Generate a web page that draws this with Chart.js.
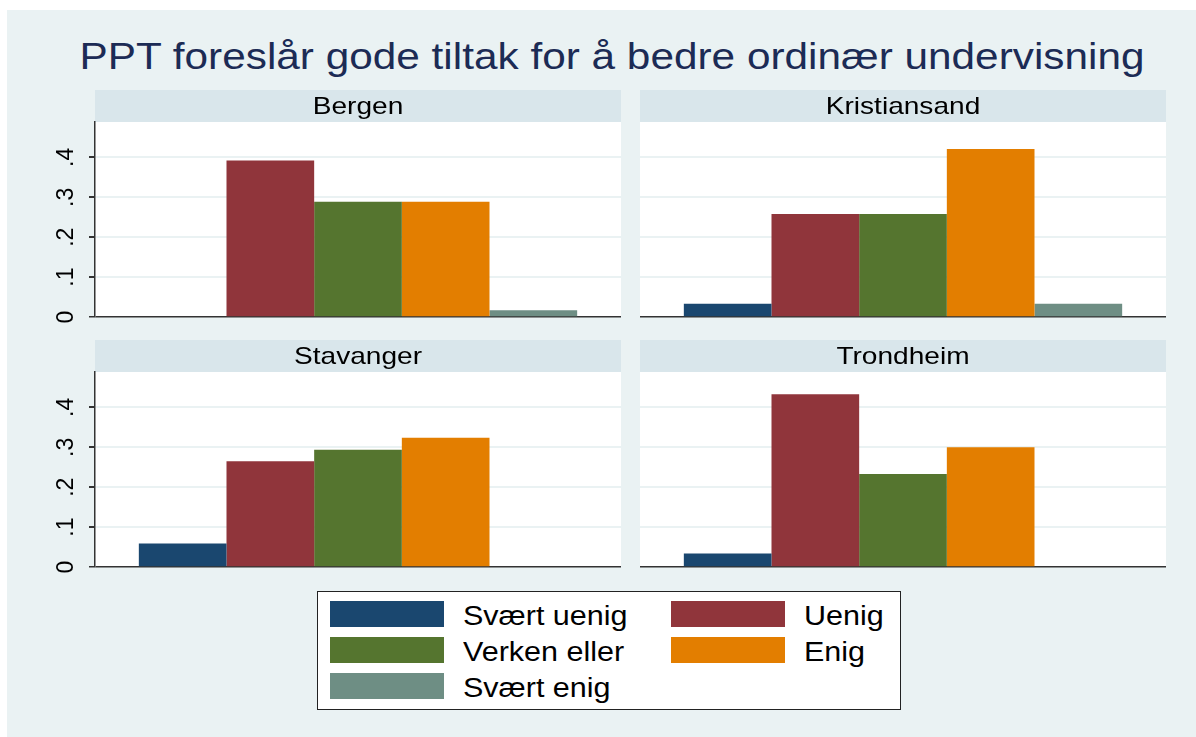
<!DOCTYPE html>
<html>
<head>
<meta charset="utf-8">
<script src="https://cdn.jsdelivr.net/npm/chart.js@4"></script>
<style>
    body { margin: 0; background: #ffffff; font-family: "Liberation Sans", Arial, sans-serif; }
    #page { position: absolute; left: 7px; top: 10px; width: 1189px; height: 727px; background: #EAF2F3; }
    #title { position: absolute; left: 0; top: 36px; width: 1224px; text-align: center; font-size: 37px; color: #1c2b55; white-space: nowrap; transform: scaleX(1.144); transform-origin: 612px 0; }
    .panel { position: absolute; }
    #legend { position: absolute; left: 317px; top: 591px; width: 582px; height: 117px; background: #fff; border: 1px solid #222; }
    .item { position: absolute; height: 26px; }
    .sw { position: absolute; left: 0; top: 0; width: 114px; height: 26px; }
    .lab { position: absolute; left: 133px; top: 0px; font-size: 27px; color: #000; white-space: nowrap; transform: scaleX(1.13); transform-origin: 0 0; }
</style>
</head>
<body>
<div id="page"></div>
<div id="title">PPT foreslår gode tiltak for å bedre ordinær undervisning</div>
<canvas class="panel" id="c0"></canvas>
<canvas class="panel" id="c1"></canvas>
<canvas class="panel" id="c2"></canvas>
<canvas class="panel" id="c3"></canvas>
<div id="legend"></div>
<script>
const cities = ["Bergen", "Kristiansand", "Stavanger", "Trondheim"];
const categories = ["Svært uenig", "Uenig", "Verken eller", "Enig", "Svært enig"];
const colors = ["#1A476F", "#90353B", "#55752F", "#E37E00", "#6E8E84"];

const bergen = [0, 0.392, 0.289, 0.289, 0.017];
const kristiansand = [0.033, 0.258, 0.258, 0.421, 0.033];
const stavanger = [0.059, 0.265, 0.294, 0.324, null];
const trondheim = [0.034, 0.433, 0.233, 0.30, null];
const cityValues = [bergen, kristiansand, stavanger, trondheim];

const yTicks = [0, 0.1, 0.2, 0.3, 0.4];
const yTickLabels = ["0", ".1", ".2", ".3", ".4"];

// panel boxes: left edge of plot, top of strip
const panelPos = [
    { x: 95, y: 90 },
    { x: 640, y: 90 },
    { x: 95, y: 340 },
    { x: 640, y: 340 }
];
const plotW = 526, plotH = 195, stripH = 32, axisW = 55, padBottom = 30;

const stripPlugin = {
    id: 'strip',
    beforeDraw(chart, args, opts) {
        const { ctx, chartArea } = chart;
        ctx.save();
        ctx.fillStyle = '#ffffff';
        ctx.fillRect(chartArea.left, chartArea.top, chartArea.width, chartArea.height);
        ctx.fillStyle = '#D9E6EB';
        ctx.fillRect(chartArea.left, chartArea.top - stripH, chartArea.width, stripH);
        ctx.fillStyle = '#000000';
        ctx.font = '24px "Liberation Sans", Arial, sans-serif';
        ctx.textAlign = 'center';
        ctx.textBaseline = 'middle';
        ctx.translate(chartArea.left + chartArea.width / 2, chartArea.top - stripH / 2 + 1);
        ctx.scale(1.17, 1);
        ctx.fillText(opts.text, 0, 0);
        ctx.restore();
    }
};

cities.forEach(function (city, i) {
    const leftCol = i % 2 === 0;
    const canvas = document.getElementById('c' + i);
    const p = panelPos[i];
    const offL = leftCol ? axisW : 0;
    canvas.style.left = (p.x - offL) + 'px';
    canvas.style.top = p.y + 'px';
    canvas.width = plotW + offL;
    canvas.height = stripH + plotH + padBottom;
    canvas.style.width = canvas.width + 'px';
    canvas.style.height = canvas.height + 'px';

    new Chart(canvas, {
        type: 'bar',
        data: {
            labels: [city],
            datasets: categories.map(function (cat, k) {
                return {
                    label: cat,
                    data: [cityValues[i][k]],
                    backgroundColor: colors[k],
                    borderWidth: 0,
                    categoryPercentage: 5 / 6,
                    barPercentage: 1
                };
            })
        },
        options: {
            responsive: false,
            animation: false,
            layout: { padding: { top: stripH, bottom: padBottom, left: 0, right: 0 } },
            plugins: {
                legend: { display: false },
                tooltip: { enabled: false },
                strip: { text: city }
            },
            scales: {
                x: { display: false },
                y: {
                    min: 0,
                    max: 0.4887,
                    afterBuildTicks: function (scale) {
                        scale.ticks = yTicks.map(v => ({ value: v }));
                    },
                    afterFit: function (scale) {
                        scale.width = offL;
                    },
                    border: { display: leftCol, color: '#333333', width: 1.5 },
                    grid: {
                        color: ctx => ctx.tick && ctx.tick.value === 0 ? '#333333' : '#EAF2F3',
                        lineWidth: ctx => ctx.tick && ctx.tick.value === 0 ? 1.5 : 2,
                        drawTicks: leftCol,
                        tickLength: 6,
                        tickColor: '#333333'
                    },
                    ticks: {
                        display: leftCol,
                        minRotation: 90,
                        maxRotation: 90,
                        crossAlign: 'center',
                        padding: 13,
                        color: '#000000',
                        font: { size: 23, family: '"Liberation Sans", Arial, sans-serif' },
                        callback: function (value) {
                            const idx = yTicks.indexOf(value);
                            return idx >= 0 ? yTickLabels[idx] : '';
                        }
                    }
                }
            }
        },
        plugins: [stripPlugin]
    });
});

// legend, two columns
const legend = document.getElementById('legend');
categories.forEach(function (cat, k) {
    const col = k % 2, row = Math.floor(k / 2);
    const item = document.createElement('div');
    item.className = 'item';
    item.style.left = (12 + col * 341) + 'px';
    item.style.top = (9 + row * 36) + 'px';
    item.innerHTML = '<div class="sw" style="background:' + colors[k] + '"></div><div class="lab">' + cat + '</div>';
    legend.appendChild(item);
});
</script>
</body>
</html>
